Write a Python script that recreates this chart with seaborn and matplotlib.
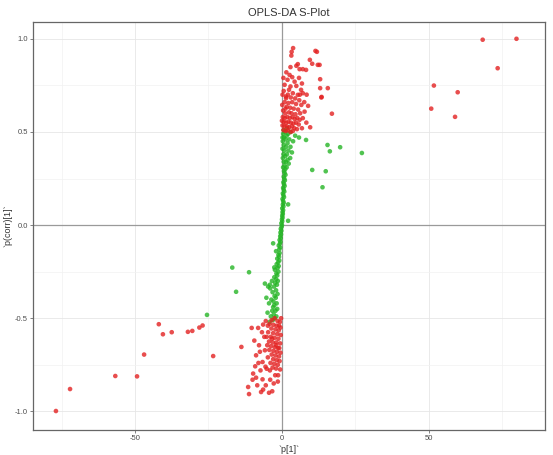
import matplotlib
matplotlib.use("Agg")
import matplotlib.pyplot as plt
import seaborn as sns
import pandas as pd
from matplotlib.ticker import MultipleLocator

# ---- data ----
green_x = [-4.2, -3.1, -2.5, -3.8, -1.9, -2.8, -4.9, -3.3, -2.2, -1.6, -3.0, -2.6, -4.4, -1.8, -2.9,
           -3.6, -2.1, -5.3, -2.5, -1.5, -3.2, -2.0, -4.0, -2.7, -1.7, -2.3, -3.4, -1.4, -2.0, -2.6,
           -1.6, -1.9, -1.2, -2.4, -1.5, -1.1, -1.8, -1.3, -0.9, -1.6, -1.0, -1.2, -0.8, -2.0, -0.9,
           -0.6, -1.1, -0.7, -0.5, -0.8, -0.4, -0.6, -0.3, -0.5, -0.2, -0.4, -0.1, 0.0, -0.2, 0.1,
           0.0, 0.2, 0.1, 0.3, 0.2, 0.4, 0.1, 0.5, 0.3, 0.6, 0.4, 0.2, 0.7, 0.5, 0.3,
           0.8, 0.6, 0.4, 0.9, 0.7, 0.5, 1.0, 0.8, 0.6, 1.2, 0.9, 0.7, 1.1,
           0.4, 1.6, 0.9, 2.3, 0.6, 1.3, 1.9, 0.3, 2.8, 1.1, 0.5, 1.7, 3.4, 0.8, 2.2,
           0.2, 1.4, 2.9, 0.6, 1.9, 0.3, 3.8, 1.2, 2.5, 0.7, 1.6, 4.5, 0.4, 2.1, 1.0,
           3.0, 0.6, 1.8, 5.8, 0.2,
           15.5, 19.8, 16.3, 10.3, 14.9, 13.8, 27.2, 8.2, 2.1, 2.1,
           -25.5, -16.9, -15.6, -11.2, -4.1, -2.6, -5.8, -4.7, -3.0]
green_y = [-0.52, -0.51, -0.50, -0.49, -0.49, -0.48, -0.47, -0.46, -0.46, -0.45, -0.44, -0.43, -0.42, -0.42, -0.41,
           -0.40, -0.39, -0.39, -0.38, -0.37, -0.36, -0.35, -0.34, -0.33, -0.32, -0.31, -0.30, -0.30, -0.29, -0.28,
           -0.27, -0.26, -0.25, -0.24, -0.23, -0.22, -0.21, -0.20, -0.19, -0.18, -0.17, -0.16, -0.15, -0.14, -0.13,
           -0.12, -0.11, -0.10, -0.09, -0.08, -0.07, -0.06, -0.05, -0.04, -0.03, -0.02, -0.01, 0.0, 0.01, 0.02,
           0.03, 0.04, 0.05, 0.06, 0.07, 0.08, 0.09, 0.10, 0.11, 0.12, 0.13, 0.14, 0.15, 0.16, 0.17,
           0.18, 0.19, 0.20, 0.21, 0.22, 0.23, 0.24, 0.25, 0.26, 0.27, 0.28, 0.29, 0.30,
           0.31, 0.31, 0.32, 0.33, 0.34, 0.34, 0.35, 0.36, 0.36, 0.37, 0.38, 0.38, 0.39, 0.40, 0.40,
           0.41, 0.42, 0.42, 0.43, 0.44, 0.45, 0.45, 0.46, 0.46, 0.47, 0.48, 0.48, 0.49, 0.49, 0.50,
           0.50, 0.51, 0.52, 0.47, 0.47,
           0.43, 0.418, 0.396, 0.296, 0.289, 0.203, 0.387, 0.457, 0.111, 0.023,
           -0.482, -0.228, -0.358, -0.253, -0.32, -0.227, -0.314, -0.33, -0.098]

red_x = [3.8, 3.3, 3.2, 11.4, 11.9, 9.5, 10.3, 12.2, 12.8, 2.9, 4.9, 5.4, 6.0, 7.1, 8.2, 13.0, 13.0, 15.6,
         0.9, 2.6, 3.5, 1.9, 4.3, 2.9, 4.9, 13.5, 17.0, 9.6, 1.5, 5.8, 6.8, 0.5,
         2.4, 3.7, 6.5, 7.1, 5.4, 1.4, 1.4, 0.6, 2.0, 3.0, 4.5, 5.9, 7.6, 8.4, 0.9, 2.2, 3.5, 4.8, 6.6,
         1.6, 2.8, 4.0, 5.5, 7.1, 7.7, 0.4, 1.1, 2.4, 3.3, 4.6, 6.2, 13.4, 8.9, 6.1,
         0.3, 1.0, 1.8, 2.7, 3.6, 4.3, 5.2, 6.0, 0.6, 1.4, 2.2, 3.0, 3.9, 4.8, 5.7, 0.2, 0.9, 1.7,
         2.5, 3.4, 4.2, 5.1, 0.5, 1.3, 2.0, 2.9, 3.7, 8.3, 6.8, 0.0, 1.2, 0.1, 0.2,
         68.3, 79.8, 73.4, 51.7, 59.8, 50.8, 58.9,
         -10.3, -13.8, -11.5, -11.2, -7.1, -6.4, -4.4, -3.3, -1.4, -1.3, -10.0, -8.8, -6.6, -9.8, -9.1,
         -8.1, -6.4, -6.0, -8.8, -5.8, -6.6, -2.3, -4.1, -5.2,
         -3.5, -2.5, -1.5, -0.7, -4.2, -2.9, -1.8, -0.5, -3.6, -2.2, -1.1, -4.7, -3.0, -1.6, -0.4,
         -5.2, -3.8, -2.5, -1.2, -4.4, -3.1, -1.9, -0.6, -5.0, -3.7, -2.4, -1.3, -4.3, -2.9, -1.7,
         -0.5, -3.5, -2.2, -1.0, -4.8, -3.0, -1.8, -0.8, -3.9, -2.6, -1.4, -5.6, -3.2, -2.0, -0.6,
         -7.3, -8.0, -7.5, -4.0, -2.8, -5.5, -8.4, -7.8, -9.4, -6.8, -5.5, -0.3, -2.0, -3.4, -0.9,
         -4.8, -1.0,
         -76.9, -72.1, -56.7, -49.3, -46.9, -41.9, -40.5, -37.5, -32.0, -30.5, -28.1, -27.0, -23.4]
red_y = [0.95, 0.93, 0.91, 0.935, 0.93, 0.887, 0.866, 0.86, 0.86, 0.848, 0.855, 0.864, 0.837, 0.837, 0.833,
         0.783, 0.735, 0.735, 0.753, 0.806, 0.794, 0.780, 0.770, 0.744, 0.747, 0.688, 0.598, 0.525, 0.82,
         0.79, 0.76, 0.79,
         0.726, 0.708, 0.726, 0.708, 0.699, 0.69, 0.681, 0.72, 0.70, 0.685, 0.68, 0.67, 0.66, 0.70, 0.66,
         0.655, 0.66, 0.65, 0.645, 0.635, 0.63, 0.625, 0.62, 0.574, 0.609, 0.615, 0.60, 0.605, 0.60, 0.595,
         0.60, 0.685, 0.64, 0.70,
         0.58, 0.575, 0.58, 0.575, 0.58, 0.57, 0.575, 0.565, 0.555, 0.55, 0.555, 0.55, 0.545, 0.55, 0.54,
         0.535, 0.53, 0.53, 0.525, 0.53, 0.52, 0.515, 0.51, 0.505, 0.51, 0.50, 0.505, 0.55, 0.52, 0.56,
         0.625, 0.645, 0.70,
         0.995, 1.0, 0.842, 0.749, 0.713, 0.625, 0.581,
         -0.552, -0.654, -0.869, -0.907, -0.896, -0.883, -0.900, -0.892, -0.840, -0.806, -0.830, -0.819,
         -0.828, -0.797, -0.758, -0.552, -0.534, -0.60, -0.699, -0.672, -0.735, -0.806, -0.78, -0.771,
         -0.51, -0.50, -0.515, -0.52, -0.53, -0.535, -0.54, -0.55, -0.555, -0.56, -0.565, -0.575, -0.58,
         -0.585, -0.59, -0.60, -0.60, -0.605, -0.61, -0.625, -0.63, -0.63, -0.635, -0.645, -0.65, -0.655,
         -0.66, -0.67, -0.675, -0.68, -0.685, -0.695, -0.70, -0.705, -0.71, -0.72, -0.725, -0.73, -0.74,
         -0.745, -0.75, -0.76, -0.765, -0.77, -0.775, -0.78, -0.74, -0.68, -0.83, -0.85, -0.86, -0.86,
         -0.645, -0.62, -0.575, -0.515, -0.50, -0.645, -0.61, -0.66, -0.54, -0.54,
         -0.998, -0.880, -0.810, -0.812, -0.695, -0.532, -0.586, -0.575, -0.573, -0.568, -0.550, -0.539,
         -0.703]

x_ticks = [-50, 0, 50]
y_ticks = [-1.0, -0.5, 0.0, 0.5, 1.0]
y_tick_labels = ["-1.0", "-0.5", "0.0", "0.5", "1.0"]

df = pd.DataFrame({
    "p1": green_x + red_x,
    "pcorr": green_y + red_y,
    "group": ["green"] * len(green_x) + ["red"] * len(red_x),
})

sns.set_style("white")
plt.rcParams["font.family"] = ["Liberation Sans", "DejaVu Sans"]

fig = plt.figure(figsize=(5.53, 4.55), dpi=100)
ax = fig.add_axes([0.0597, 0.0549, 0.9258, 0.8967])

ax.set_xlim(-84.7, 89.5)
ax.set_ylim(-1.10, 1.09)

ax.xaxis.set_minor_locator(MultipleLocator(25))
ax.yaxis.set_minor_locator(MultipleLocator(0.25))
ax.grid(which="major", color="#E6E6E6", lw=0.6)
ax.grid(which="minor", color="#F2F2F2", lw=0.5)
ax.set_axisbelow(True)

ax.axhline(0, color="#9A9A9A", lw=0.9, zorder=1)
ax.axvline(0, color="#9A9A9A", lw=0.9, zorder=1)

sns.scatterplot(data=df, x="p1", y="pcorr", hue="group",
                palette={"green": "#25B525", "red": "#E32222"},
                s=11, alpha=0.8, linewidth=0, legend=False, ax=ax, zorder=3)

ax.set_xticks(x_ticks)
ax.set_xticklabels([str(v) for v in x_ticks])
ax.set_yticks(y_ticks)
ax.set_yticklabels(y_tick_labels)
ax.tick_params(axis="both", which="major", labelsize=5.5, colors="#4D4D4D",
               length=2, width=0.5, pad=1.5, bottom=True, left=True)
ax.tick_params(axis="both", which="minor", length=0)

for side in ["top", "right", "bottom", "left"]:
    ax.spines[side].set_color("#666666")
    ax.spines[side].set_linewidth(0.9)

ax.set_title("OPLS-DA S-Plot", fontsize=8, color="#333333", pad=4)
ax.set_xlabel("`p[1]`", fontsize=6.5, color="#333333", labelpad=2)
ax.set_ylabel("`p(corr)[1]`", fontsize=6.5, color="#333333", labelpad=2)

fig.savefig("out.png", dpi=100)
